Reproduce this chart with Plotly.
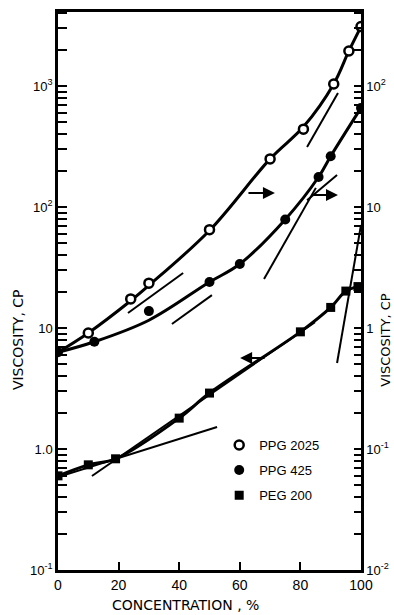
import numpy as np
import plotly.graph_objects as go

# ---------------- data ----------------
# concentration, %
ppg2025_x = [10, 24, 30, 50, 70, 81, 91, 96, 100]
ppg2025_y = [0.91, 1.74, 2.35, 6.5, 25, 44, 104, 195, 310]          # right axis, cP
ppg425_x = [0, 12, 30, 50, 60, 75, 86, 90, 100]
ppg425_y = [0.63, 0.77, 1.38, 2.40, 3.38, 7.9, 17.7, 26.3, 66]       # right axis, cP
peg200_x = [0, 10, 19, 40, 50, 80, 90, 95, 99]
peg200_y = [0.60, 0.74, 0.83, 1.80, 2.9, 9.3, 14.8, 20.2, 22]        # left axis, cP

# smooth curves drawn through the data
ppg2025_curve_x = [0, 10, 24, 30, 50, 70, 81, 91, 96, 100]
ppg2025_curve_y = [0.63, 0.91, 1.68, 2.25, 6.4, 25, 46, 104, 195, 310]
ppg425_curve_x = [0, 12, 30, 50, 60, 75, 86, 90, 100]
ppg425_curve_y = [0.63, 0.77, 1.16, 2.40, 3.38, 7.9, 17.7, 26.3, 66]
peg200_curve_x = [0, 10, 19, 40, 50, 80, 90, 95, 99]
peg200_curve_y = [0.60, 0.74, 0.83, 1.80, 2.9, 9.3, 14.8, 20.2, 22]

# tangent line segments: (x0, x1), (y0, y1)
ppg2025_tangents = [((23.1, 41.3), (1.33, 2.85)), ((82.2, 92.4), (31.3, 87.5))]
ppg425_tangents = [((37.6, 50.8), (1.08, 1.87)), ((68.0, 85.1), (2.54, 14.4)),
                   ((82.2, 92.1), (11.4, 18.4))]
peg200_tangents = [((0, 52.5), (0.587, 1.52)), ((11.2, 84.8), (0.598, 11.2)),
                   ((92.1, 100), (5.14, 71))]

x_ticks = [0, 20, 40, 60, 80, 100]
left_decades = [0.1, 1, 10, 100, 1000]
left_labels = ["10<sup>-1</sup>", "1.0", "10", "10<sup>2</sup>", "10<sup>3</sup>"]
right_decades = [0.01, 0.1, 1, 10, 100]
right_labels = ["10<sup>-2</sup>", "10<sup>-1</sup>", "1", "10", "10<sup>2</sup>"]

legend_names = ["PPG 2025", "PPG 425", "PEG 200"]

# ---------------- figure ----------------
FONT = "Liberation Sans"
TITLE_FONT = "DejaVu Sans"
fig = go.Figure()

def curve(x, y, axis):
    fig.add_trace(go.Scatter(x=x, y=y, mode="lines", yaxis=axis,
                             line=dict(color="black", width=3, shape="spline", smoothing=1.0),
                             showlegend=False, hoverinfo="skip"))

def tangents(segs, axis):
    for xs, ys in segs:
        fig.add_trace(go.Scatter(x=list(xs), y=list(ys), mode="lines", yaxis=axis,
                                 line=dict(color="black", width=2),
                                 showlegend=False, hoverinfo="skip"))

curve(ppg2025_curve_x, ppg2025_curve_y, "y2")
curve(ppg425_curve_x, ppg425_curve_y, "y2")
curve(peg200_curve_x, peg200_curve_y, "y")
tangents(ppg2025_tangents, "y2")
tangents(ppg425_tangents, "y2")
tangents(peg200_tangents, "y")

fig.add_trace(go.Scatter(x=ppg2025_x, y=ppg2025_y, mode="markers", yaxis="y2",
                         name=legend_names[0], legend="legend",
                         marker=dict(symbol="circle", size=9, color="white",
                                     line=dict(color="black", width=2.5))))
fig.add_trace(go.Scatter(x=ppg425_x, y=ppg425_y, mode="markers", yaxis="y2",
                         name=legend_names[1], legend="legend2",
                         marker=dict(symbol="circle", size=10, color="black")))
fig.add_trace(go.Scatter(x=peg200_x, y=peg200_y, mode="markers", yaxis="y",
                         name=legend_names[2], legend="legend3",
                         marker=dict(symbol="square", size=9, color="black")))

def minor_vals(lo, hi):
    vals = []
    for e in range(lo, hi + 1):
        for m in range(2, 10):
            vals.append(m * 10.0 ** e)
    return vals

def leg(y):
    return dict(x=0.532, y=y, xanchor="left", yanchor="middle",
                bgcolor="rgba(0,0,0,0)", font=dict(size=13), itemwidth=30)

fig.update_layout(
    width=394, height=615,
    margin=dict(l=58, r=33, t=12, b=45, autoexpand=False),
    paper_bgcolor="white", plot_bgcolor="white",
    font=dict(family=FONT, size=13, color="black"),
    xaxis=dict(range=[0, 100], tickvals=x_ticks, ticks="inside", ticklen=8, tickwidth=2,
               tickcolor="black", showline=True, linecolor="black", linewidth=2.5,
               mirror=True, showgrid=False, zeroline=False, automargin=False,
               tickfont=dict(size=14)),
    yaxis=dict(type="log", range=[-1, 3.612], tickvals=left_decades, ticktext=left_labels,
               ticks="inside", ticklen=9, tickwidth=2, tickcolor="black",
               minor=dict(tickvals=minor_vals(-1, 3), ticks="inside", ticklen=9,
                          tickwidth=2, tickcolor="black", showgrid=False),
               showline=True, linecolor="black", linewidth=2.5, showgrid=False,
               zeroline=False, automargin=False, tickfont=dict(size=13)),
    yaxis2=dict(type="log", range=[-2, 2.612], tickvals=right_decades, ticktext=right_labels,
                overlaying="y", side="right",
                ticks="inside", ticklen=7, tickwidth=2, tickcolor="black",
                minor=dict(tickvals=minor_vals(-2, 2), ticks="inside", ticklen=7,
                           tickwidth=2, tickcolor="black", showgrid=False),
                showline=True, linecolor="black", linewidth=2.5, showgrid=False,
                zeroline=False, automargin=False, tickfont=dict(size=13)),
    legend=leg(0.224),
    legend2=leg(0.179),
    legend3=leg(0.134),
    showlegend=True,
)

fig.add_annotation(text="VISCOSITY, CP", xref="paper", yref="paper", x=-0.132, y=0.412,
                   xanchor="center", yanchor="middle",
                   textangle=-90, showarrow=False, font=dict(family=TITLE_FONT, size=14))
fig.add_annotation(text="VISCOSITY, CP", xref="paper", yref="paper", x=1.078, y=0.412,
                   xanchor="center", yanchor="middle",
                   textangle=-90, showarrow=False, font=dict(family=TITLE_FONT, size=13))
fig.add_annotation(text="CONCENTRATION , %", xref="paper", yref="paper", x=0.422, y=-0.063,
                   xanchor="center", yanchor="middle", showarrow=False,
                   font=dict(family=TITLE_FONT, size=14))

# arrows indicating which axis each curve uses
arrow_style = dict(showarrow=True, arrowhead=2, arrowsize=1.2, arrowwidth=2,
                   arrowcolor="black", text="", xref="x", yref="y")
fig.add_annotation(x=71.6, y=np.log10(130.6), ax=-28, ay=0, **arrow_style)
fig.add_annotation(x=92.4, y=np.log10(125.6), ax=-26, ay=0, **arrow_style)
fig.add_annotation(x=60.1, y=np.log10(5.65), ax=26, ay=0, **arrow_style)

fig.write_html("out.html", config={"displayModeBar": False},
               post_script="document.body.style.margin='0px';")
